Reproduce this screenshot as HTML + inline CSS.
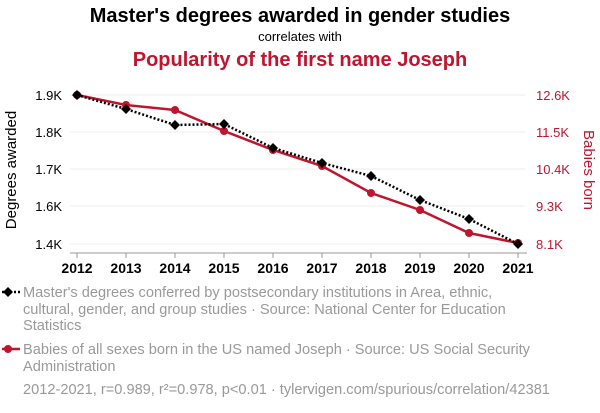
<!DOCTYPE html>
<html><head><style>
body{margin:0;width:600px;height:408px;background:#fff;font-family:"Liberation Sans",sans-serif;overflow:hidden}
</style></head><body>
<svg width="600" height="408" xmlns="http://www.w3.org/2000/svg" font-family="Liberation Sans, sans-serif">
<text x="300" y="22" text-anchor="middle" font-size="20" font-weight="bold">Master's degrees awarded in gender studies</text>
<text x="300" y="41" text-anchor="middle" font-size="13">correlates with</text>
<text x="300" y="66" text-anchor="middle" font-size="20" font-weight="bold" fill="#c0152f">Popularity of the first name Joseph</text>
<g stroke="#eee" stroke-width="1">
<line x1="70" x2="525" y1="95" y2="95"/><line x1="70" x2="525" y1="132" y2="132"/><line x1="70" x2="525" y1="169" y2="169"/><line x1="70" x2="525" y1="206" y2="206"/><line x1="70" x2="525" y1="244" y2="244"/>
</g>
<line x1="70" x2="527" y1="253" y2="253" stroke="#999"/>
<g stroke="#999">
<line x1="77" x2="77" y1="253" y2="258"/><line x1="126" x2="126" y1="253" y2="258"/><line x1="175" x2="175" y1="253" y2="258"/><line x1="224" x2="224" y1="253" y2="258"/><line x1="273" x2="273" y1="253" y2="258"/><line x1="322" x2="322" y1="253" y2="258"/><line x1="371" x2="371" y1="253" y2="258"/><line x1="420" x2="420" y1="253" y2="258"/><line x1="469" x2="469" y1="253" y2="258"/><line x1="518" x2="518" y1="253" y2="258"/>
</g>
<g font-size="13" text-anchor="end">
<text x="62" y="100">1.9K</text><text x="62" y="137">1.8K</text><text x="62" y="174">1.7K</text><text x="62" y="211">1.6K</text><text x="62" y="249">1.4K</text>
</g>
<g font-size="13" fill="#c0152f">
<text x="536" y="100">12.6K</text><text x="536" y="137">11.5K</text><text x="536" y="174">10.4K</text><text x="536" y="211">9.3K</text><text x="536" y="249">8.1K</text>
</g>
<g font-size="14" font-weight="bold" text-anchor="middle">
<text x="77" y="273">2012</text><text x="126" y="273">2013</text><text x="175" y="273">2014</text><text x="224" y="273">2015</text><text x="273" y="273">2016</text><text x="322" y="273">2017</text><text x="371" y="273">2018</text><text x="420" y="273">2019</text><text x="469" y="273">2020</text><text x="518" y="273">2021</text>
</g>
<text transform="translate(16,170) rotate(-90)" text-anchor="middle" font-size="15">Degrees awarded</text>
<text transform="translate(584,170) rotate(90)" text-anchor="middle" font-size="15" fill="#c0152f">Babies born</text>
<polyline fill="none" stroke="#c0152f" stroke-width="2.5" points="77,95 126,105 175,110 224,131 273,150 322,166 371,193 420,210 469,233 518,243"/>
<g fill="#c0152f">
<circle cx="77" cy="95" r="4"/><circle cx="126" cy="105" r="4"/><circle cx="175" cy="110" r="4"/><circle cx="224" cy="131" r="4"/><circle cx="273" cy="150" r="4"/><circle cx="322" cy="166" r="4"/><circle cx="371" cy="193" r="4"/><circle cx="420" cy="210" r="4"/><circle cx="469" cy="233" r="4"/><circle cx="518" cy="243" r="4"/>
</g>
<polyline fill="none" stroke="#000" stroke-width="2.5" stroke-dasharray="2,2" points="77,95 126,109 175,125 224,124 273,148 322,163 371,176 420,200 469,219 518,244"/>
<g fill="#000">
<path d="M77,90l5,5l-5,5l-5,-5z"/><path d="M126,104l5,5l-5,5l-5,-5z"/><path d="M175,120l5,5l-5,5l-5,-5z"/><path d="M224,119l5,5l-5,5l-5,-5z"/><path d="M273,143l5,5l-5,5l-5,-5z"/><path d="M322,158l5,5l-5,5l-5,-5z"/><path d="M371,171l5,5l-5,5l-5,-5z"/><path d="M420,195l5,5l-5,5l-5,-5z"/><path d="M469,214l5,5l-5,5l-5,-5z"/><path d="M518,239l5,5l-5,5l-5,-5z"/>
</g>
<line x1="2" x2="20" y1="292" y2="292" stroke="#000" stroke-width="2.5" stroke-dasharray="2,2"/>
<path d="M8,287l5,5l-5,5l-5,-5z"/>
<line x1="2" x2="20" y1="349" y2="349" stroke="#c0152f" stroke-width="2.5"/>
<circle cx="8" cy="349" r="4" fill="#c0152f"/>
<g font-size="14.6" fill="#999">
<text x="23" y="297">Master's degrees conferred by postsecondary institutions in Area, ethnic,</text>
<text x="23" y="314">cultural, gender, and group studies · Source: National Center for Education</text>
<text x="23" y="330">Statistics</text>
<text x="23" y="354">Babies of all sexes born in the US named Joseph · Source: US Social Security</text>
<text x="23" y="371">Administration</text>
<text x="23" y="394">2012-2021, r=0.989, r²=0.978, p&lt;0.01 · tylervigen.com/spurious/correlation/42381</text>
</g>
</svg>
</body></html>
